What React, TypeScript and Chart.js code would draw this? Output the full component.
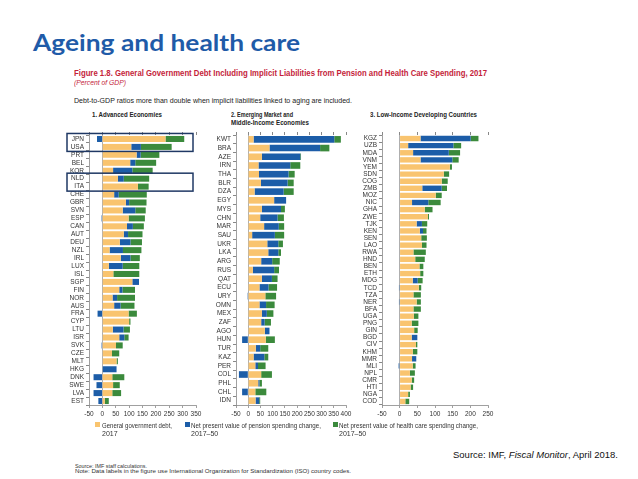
import React, { useEffect, useLayoutEffect, useRef } from 'react';
import { Chart, registerables } from 'chart.js';
Chart.register(...registerables);

const ORANGE = '#F9C46F';
const BLUE = '#1C5DA8';
const GREEN = '#3B8A3C';

const advCountries = ['JPN','USA','PRT','BEL','KOR','NLD','ITA','CHE','GBR','SVN','ESP','CAN','AUT','DEU','NZL','IRL','LUX','ISL','SGP','FIN','NOR','AUS','FRA','CYP','LTU','ISR','SVK','CZE','MLT','HKG','DNK','SWE','LVA','EST'];
const advDebt = [236,108,128,104,40,58,133,44,88,76,98,92,80,65,27,69,24,41,112,63,38,44,98,100,39,63,51,36,53,0,37,40,37,9];
const advPension = [-20,36,15,19,72,22,0,17,12,47,-3,22,16,40,50,36,52,0,25,12,17,24,-18,0,40,19,-3,0,0,53,-33,-22,-33,-15];
const advHealth = [70,115,70,78,76,95,40,105,65,39,61,41,54,43,69,35,62,97,0,47,67,52,31,5,24,16,25,27,5,0,45,25,33,15];

const emCountries = ['KWT','BRA','AZE','IRN','THA','BLR','DZA','EGY','MYS','CHN','MAR','SAU','UKR','LKA','ARG','RUS','QAT','ECU','URY','OMN','MEX','ZAF','AGO','HUN','TUR','KAZ','PER','COL','PHL','CHL','IDN'];
const emDebt = [22,87,56,42,44,52,26,106,56,49,65,16,78,82,53,19,56,46,70,46,56,53,68,72,31,22,29,53,41,29,30];
const emPension = [330,207,157,130,121,109,119,49,78,71,60,93,45,41,45,87,41,37,-3,27,20,14,19,-25,18,44,11,-38,5,-25,15];
const emHealth = [27,38,3,41,25,25,41,0,16,26,22,38,19,11,31,20,23,35,44,35,27,26,0,37,33,16,31,44,10,45,4];

const lidcCountries = ['KGZ','UZB','MDA','VNM','YEM','SDN','COG','ZMB','MOZ','NIC','GHA','ZWE','TJK','KEN','SEN','LAO','RWA','HND','BEN','ETH','MDG','TCD','TZA','NER','BFA','UGA','PNG','GIN','BGD','CIV','KHM','MMR','MLI','NPL','CMR','HTI','NGA','COD'];
const lidcDebt = [59,24,38,59,142,125,119,64,102,35,71,80,48,57,61,63,39,44,56,58,37,54,39,48,39,40,34,41,34,46,37,35,37,29,34,31,24,16];
const lidcPension = [142,128,101,90,0,0,0,55,0,46,0,0,15,9,0,0,0,0,0,0,14,-2,0,-2,0,0,0,0,16,0,0,12,-3,0,0,0,0,0];
const lidcHealth = [22,22,32,18,6,15,17,15,17,35,22,3,15,10,16,13,35,27,11,9,14,7,21,12,21,13,19,10,0,4,13,0,8,14,7,7,5,11];

const seriesNames = [
  ['General government debt,', '2017'],
  ['Net present value of pension spending change,', '2017\u201350'],
  ['Net present value of health care spending change,', '2017\u201350'],
];

const NARROW = "'Liberation Sans Narrow', 'Liberation Sans', Arial, sans-serif";
const SANS = "'Liberation Sans', Arial, sans-serif";

type FTProps = {
  x: number; cy: number; w: number; size: number; weight?: number | string;
  italic?: boolean; color?: string; align?: 'left' | 'right'; family?: string; children: React.ReactNode;
};

function FitText({ x, cy, w, size, weight = 400, italic = false, color = '#222', align = 'left', family = SANS, children }: FTProps) {
  const ref = useRef<HTMLSpanElement>(null);
  useLayoutEffect(() => {
    const el = ref.current;
    if (!el) return;
    el.style.transform = 'none';
    const nat = el.getBoundingClientRect().width;
    if (nat > 0) el.style.transform = `scaleX(${w / nat})`;
  }, [w]);
  const lh = size * 1.2;
  return (
    <span
      ref={ref}
      style={{
        position: 'absolute',
        top: cy - lh / 2,
        left: align === 'right' ? x - w : x,
        fontSize: size,
        lineHeight: lh + 'px',
        fontWeight: weight as any,
        fontStyle: italic ? 'italic' : 'normal',
        color,
        fontFamily: family,
        whiteSpace: 'nowrap',
        display: 'inline-block',
        transformOrigin: 'left center',
      }}
    >
      {children}
    </span>
  );
}

type PanelProps = {
  left: number; width: number; yW: number; labels: string[];
  debt: number[]; pension: number[]; health: number[]; max: number;
  boxes?: [number, number][];
};

function Panel({ left, width, yW, labels, debt, pension, health, max, boxes = [] }: PanelProps) {
  const ref = useRef<HTMLCanvasElement>(null);
  useEffect(() => {
    const boxPlugin = {
      id: 'boxes',
      afterDraw(chart: any) {
        if (!boxes.length) return;
        const ctx = chart.ctx;
        const y = chart.scales.y;
        ctx.save();
        ctx.strokeStyle = '#1F3864';
        ctx.lineWidth = 1.5;
        boxes.forEach(([a, b]) => {
          const y1 = y.getPixelForValue(a) - 5.5;
          const y2 = y.getPixelForValue(b) + 4.5;
          const x1 = 9;
          const x2 = chart.chartArea.right - 3;
          ctx.strokeRect(x1, y1, x2 - x1, y2 - y1);
        });
        ctx.restore();
      },
    };
    const chart = new Chart(ref.current!, {
      type: 'bar',
      data: {
        labels,
        datasets: [
          { label: seriesNames[0].join(' '), data: debt, backgroundColor: ORANGE, stack: 's', barPercentage: 0.76, categoryPercentage: 1 },
          { label: seriesNames[1].join(' '), data: pension, backgroundColor: BLUE, stack: 's', barPercentage: 0.76, categoryPercentage: 1 },
          { label: seriesNames[2].join(' '), data: health, backgroundColor: GREEN, stack: 's', barPercentage: 0.76, categoryPercentage: 1 },
        ],
      },
      options: {
        indexAxis: 'y',
        responsive: false,
        animation: false,
        layout: { padding: { left: 0, right: 10, top: 6, bottom: 0 } },
        plugins: { legend: { display: false }, tooltip: { enabled: false }, title: { display: false } },
        scales: {
          x: {
            type: 'linear',
            stacked: true,
            min: -50,
            max,
            position: 'bottom',
            afterFit: (s: any) => { s.height = 20; },
            ticks: { stepSize: 50, autoSkip: false, font: { size: 6.5, family: NARROW }, color: '#333', padding: 2, maxRotation: 0 },
            grid: {
              drawOnChartArea: true,
              drawTicks: true,
              tickLength: 3,
              tickColor: '#888',
              color: (c: any) => (c.tick && c.tick.value === 0 ? '#9a9a9a' : 'rgba(0,0,0,0)'),
              lineWidth: 0.8,
            },
            border: { display: true, color: '#888', width: 0.8 },
          },
          x2: {
            type: 'linear',
            min: -50,
            max,
            position: 'top',
            afterFit: (s: any) => { s.height = 4; },
            ticks: { stepSize: 50, display: false, autoSkip: false },
            grid: { drawOnChartArea: false, drawTicks: true, tickLength: 3, tickColor: '#888', color: '#888' },
            border: { display: false },
          },
          y: {
            stacked: true,
            afterFit: (s: any) => { s.width = yW; },
            ticks: { font: { size: 6.5, family: NARROW }, color: '#333', padding: 2, autoSkip: false },
            grid: { drawOnChartArea: false, drawTicks: true, tickLength: 3, tickColor: '#888', color: '#888' },
            border: { display: true, color: '#888', width: 0.8 },
          },
        },
      },
      plugins: [boxPlugin],
    } as any);
    return () => chart.destroy();
  }, []);
  return (
    <canvas
      ref={ref}
      width={width}
      height={300}
      style={{ position: 'absolute', left, top: 125, width, height: 300 }}
    />
  );
}

function LegendItem({ sx, tx, color, lines, w }: { sx: number; tx: number; color: string; lines: string[]; w: number }) {
  return (
    <>
      <div style={{ position: 'absolute', left: sx, top: 422, width: 5, height: 5, background: color }} />
      <FitText x={tx} cy={425} w={w} size={7.5} color="#333">{lines[0]}</FitText>
      <span style={{ position: 'absolute', left: tx, top: 433 - 4.5, fontSize: 7, lineHeight: '9px', color: '#333', fontFamily: NARROW }}>{lines[1]}</span>
    </>
  );
}

export default function App() {
  return (
    <div style={{ position: 'absolute', left: 0, top: 0, width: 638, height: 479, background: '#fff', overflow: 'hidden' }}>
      <FitText x={33} cy={43} w={267} size={23} weight={700} color="#1F5BA8" family="Lato, 'Open Sans', sans-serif">Ageing and health care</FitText>
      <FitText x={74} cy={73.5} w={413} size={9} weight={700} color="#C41E3A">
        Figure 1.8. General Government Debt Including Implicit Liabilities from Pension and Health Care Spending, 2017
      </FitText>
      <FitText x={74} cy={83} w={52} size={7} italic color="#C41E3A">(Percent of GDP)</FitText>
      <FitText x={74} cy={101} w={278} size={7} color="#222">
        Debt-to-GDP ratios more than double when implicit liabilities linked to aging are included.
      </FitText>
      <FitText x={92} cy={114} w={70} size={7.5} weight={700} color="#222">1. Advanced Economies</FitText>
      <FitText x={231} cy={114} w={62} size={7.5} weight={700} color="#222">2. Emerging Market and</FitText>
      <FitText x={231} cy={122.7} w={78} size={7.5} weight={700} color="#222">Middle-Income Economies</FitText>
      <FitText x={370} cy={114} w={107} size={7.5} weight={700} color="#222">3. Low-Income Developing Countries</FitText>

      <Panel left={58} width={148} yW={31} labels={advCountries} debt={advDebt} pension={advPension} health={advHealth} max={350} boxes={[[0, 1], [5, 6]]} />
      <Panel left={208} width={148} yW={28} labels={emCountries} debt={emDebt} pension={emPension} health={emHealth} max={400} />
      <Panel left={352} width={146} yW={30} labels={lidcCountries} debt={lidcDebt} pension={lidcPension} health={lidcHealth} max={250} />

      <LegendItem sx={95} tx={102} color={ORANGE} lines={seriesNames[0]} w={70} />
      <LegendItem sx={185} tx={191} color={BLUE} lines={seriesNames[1]} w={130} />
      <LegendItem sx={333} tx={339} color={GREEN} lines={seriesNames[2]} w={139} />

      <FitText x={618} cy={455.5} w={165} size={9} color="#111" align="right">
        Source: IMF, <i>Fiscal Monitor</i>, April 2018.
      </FitText>
      <FitText x={75} cy={466} w={72} size={5.5} color="#333">Source: IMF staff calculations.</FitText>
      <FitText x={75} cy={471} w={276} size={5.5} color="#333">
        Note: Data labels in the figure use International Organization for Standardization (ISO) country codes.
      </FitText>
    </div>
  );
}
